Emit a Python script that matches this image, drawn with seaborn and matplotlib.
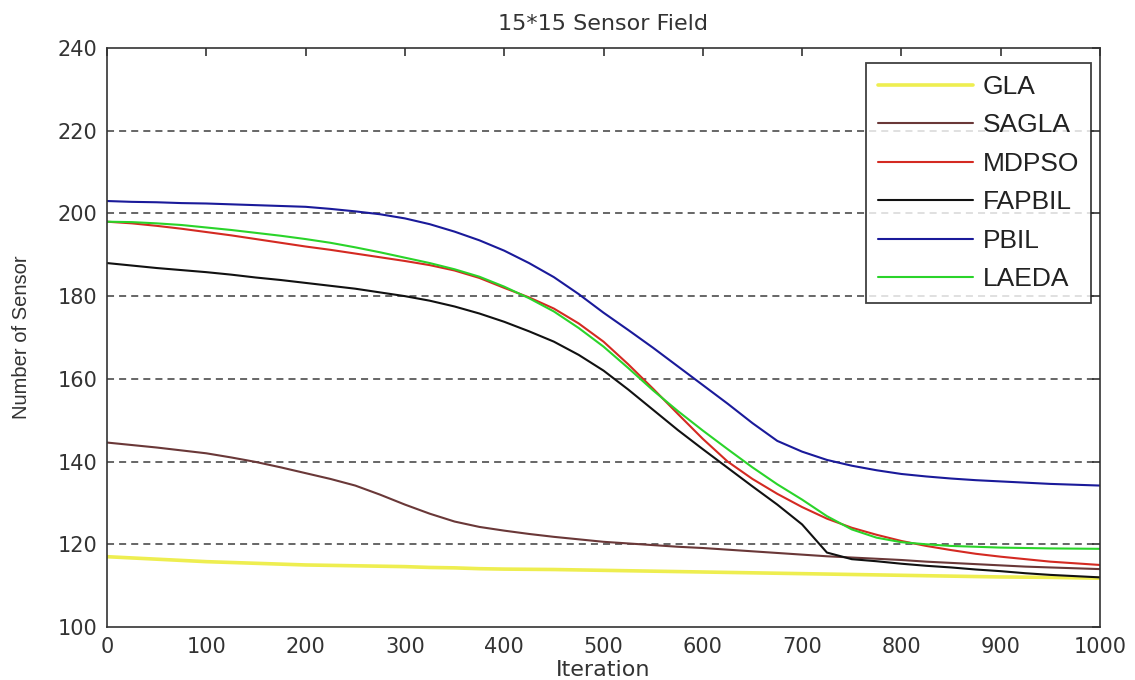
import numpy as np
import pandas as pd
import matplotlib
matplotlib.use("Agg")
import matplotlib.pyplot as plt
import seaborn as sns

iterations = list(range(0, 1001, 25))

gla = [117, 116.7, 116.4, 116.1, 115.8, 115.6, 115.4, 115.2, 115, 114.9, 114.8, 114.7, 114.6,
       114.4, 114.3, 114.1, 114, 113.95, 113.9, 113.8, 113.7, 113.6, 113.5, 113.4, 113.3,
       113.2, 113.1, 113, 112.9, 112.8, 112.7, 112.6, 112.5, 112.4, 112.3, 112.2, 112.1,
       112.05, 112, 111.9, 111.8]
sagla = [144.6, 144, 143.4, 142.7, 142, 141, 139.9, 138.6, 137.2, 135.8, 134.2, 132, 129.6,
         127.4, 125.5, 124.2, 123.3, 122.5, 121.8, 121.2, 120.6, 120.2, 119.8, 119.4, 119.1,
         118.7, 118.3, 117.9, 117.5, 117.1, 116.8, 116.5, 116.2, 115.8, 115.5, 115.2, 114.9,
         114.6, 114.4, 114.2, 114]
mdpso = [198, 197.6, 197, 196.3, 195.5, 194.7, 193.8, 192.9, 192, 191.2, 190.3, 189.4, 188.5,
         187.5, 186.2, 184.4, 182, 179.7, 177, 173.4, 169, 163.5, 157.6, 151.5, 145.5,
         140, 135.8, 132.2, 129, 126.2, 124, 122.3, 120.8, 119.6, 118.6, 117.7, 117,
         116.4, 115.8, 115.4, 115]
fapbil = [188, 187.4, 186.8, 186.3, 185.8, 185.2, 184.5, 183.9, 183.2, 182.5, 181.8, 180.9, 180,
          178.9, 177.5, 175.8, 173.8, 171.5, 169, 165.8, 162, 157.4, 152.5, 147.6, 143,
          138.5, 134, 129.6, 124.8, 118, 116.4, 115.9, 115.3, 114.8, 114.4, 113.9, 113.5,
          113, 112.6, 112.3, 112]
pbil = [203, 202.8, 202.7, 202.5, 202.4, 202.2, 202, 201.8, 201.6, 201.1, 200.5, 199.8, 198.8,
        197.4, 195.6, 193.5, 191, 188, 184.6, 180.5, 176, 171.8, 167.5, 163, 158.5,
        154, 149.3, 145, 142.4, 140.4, 139, 137.9, 137, 136.4, 135.9, 135.5, 135.2,
        134.9, 134.6, 134.4, 134.2]
laeda = [198, 197.9, 197.6, 197.2, 196.6, 196, 195.3, 194.6, 193.8, 192.9, 191.8, 190.6, 189.3,
         188, 186.5, 184.7, 182.3, 179.5, 176.3, 172.3, 167.8, 162.6, 157.2, 152.2, 147.5,
         143, 138.6, 134.5, 130.8, 126.8, 123.6, 121.6, 120.5, 120, 119.6, 119.4, 119.2,
         119.1, 119, 118.95, 118.9]

series_names = ["GLA", "SAGLA", "MDPSO", "FAPBIL", "PBIL", "LAEDA"]
series_values = [gla, sagla, mdpso, fapbil, pbil, laeda]
colors = ["#eeee50", "#6a3838", "#d42a22", "#111111", "#1a1a9a", "#2ad42a"]
widths = [2.6, 1.5, 1.5, 1.5, 1.5, 1.5]

x_ticks = [0, 100, 200, 300, 400, 500, 600, 700, 800, 900, 1000]
y_ticks = [100, 120, 140, 160, 180, 200, 220, 240]

rows = []
for name, vals in zip(series_names, series_values):
    for it, v in zip(iterations, vals):
        rows.append({"Iteration": it, "Number of Sensor": v, "Method": name})
df = pd.DataFrame(rows)

sns.set_theme(style="white")
plt.rcParams['font.family'] = ['DejaVu Sans']

fig = plt.figure(figsize=(11.35, 6.8), dpi=100)
ax = fig.add_axes([107 / 1135, 53 / 680, 993 / 1135, 579 / 680])

for y in y_ticks[1:-1]:
    ax.axhline(y, color="#5a5a5a", linestyle=(0, (3.9, 2.8)), linewidth=1.3, zorder=0)

for name, c, w in zip(series_names, colors, widths):
    sns.lineplot(data=df[df["Method"] == name], x="Iteration", y="Number of Sensor",
                 color=c, linewidth=w, ax=ax, label=name, estimator=None, sort=True)

ax.set_xlim(0, 1000)
ax.set_ylim(100, 240)
ax.set_xticks(x_ticks)
ax.set_yticks(y_ticks)
ax.tick_params(direction="in", length=6, width=1.2, top=True, right=True,
               labelsize=15, colors="#333333", labelcolor="#333333", pad=7)
for s in ax.spines.values():
    s.set_visible(True)
    s.set_color("#333333")
    s.set_linewidth(1.2)

ax.set_title("15*15 Sensor Field", fontsize=16, color="#333333", pad=13)
ax.set_xlabel("Iteration", fontsize=16, color="#333333")
ax.xaxis.set_label_coords(0.5, -0.057)
ax.set_ylabel("Number of Sensor", fontsize=14.5, color="#333333",
              family=["Liberation Sans", "DejaVu Sans"])
ax.yaxis.set_label_coords(-0.077, 0.5)

leg = ax.legend(loc="upper right", bbox_to_anchor=(0.991, 0.974), borderaxespad=0,
                prop={"family": ["Liberation Sans", "DejaVu Sans"], "size": 19},
                frameon=True, fancybox=False, edgecolor="#111111",
                handlelength=3.6, handletextpad=0.38, labelspacing=0.55, borderpad=0.45)
leg.get_frame().set_linewidth(1.3)
for t in leg.get_texts():
    t.set_color("#222222")

fig.savefig("out.png", dpi=100, facecolor="white")
